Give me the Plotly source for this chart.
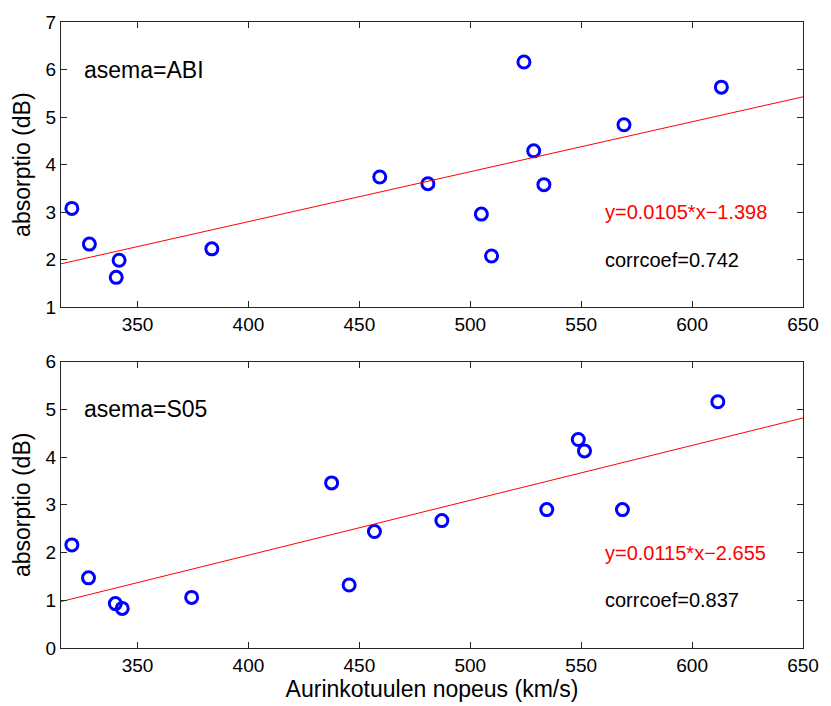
import plotly.graph_objects as go

# --- data ---
abi_speed = [320.4, 328.3, 341.7, 340.4, 383.5, 459.2, 480.9, 524.2, 528.6, 533.2, 505.0, 509.6, 569.3, 613.2]
abi_absorption = [3.08, 2.33, 1.99, 1.63, 2.23, 3.74, 3.60, 6.16, 4.29, 3.58, 2.96, 2.08, 4.84, 5.63]

s05_speed = [320.4, 327.9, 340.0, 343.1, 374.4, 437.5, 445.4, 456.8, 487.2, 534.5, 548.7, 551.5, 568.6, 611.6]
s05_absorption = [2.16, 1.47, 0.93, 0.83, 1.06, 3.46, 1.32, 2.44, 2.67, 2.90, 4.37, 4.13, 2.90, 5.16]

stations = ["ABI", "S05"]
slopes = [0.0105, 0.0115]
intercepts = [-1.398, -2.655]
corrcoefs = [0.742, 0.837]
equation_labels = ["y=0.0105*x\u22121.398", "y=0.0115*x\u22122.655"]

x_range = [315.5, 650]
x_ticks = [350, 400, 450, 500, 550, 600, 650]
y_ranges = [[1, 7], [0, 6]]
y_ticks = [[1, 2, 3, 4, 5, 6, 7], [0, 1, 2, 3, 4, 5, 6]]
text_pos = [
    {"label": (325, 6), "eq": (560, 3), "cc": (560, 2)},
    {"label": (325, 5), "eq": (560, 2), "cc": (560, 1)},
]

FONT = "Liberation Sans, Arial, Helvetica, sans-serif"

fig = go.Figure()

speeds = [abi_speed, s05_speed]
absorptions = [abi_absorption, s05_absorption]
axis_ids = [("x", "y"), ("x2", "y2")]

annotations = []
for i in range(2):
    xa, ya = axis_ids[i]
    fig.add_trace(go.Scatter(
        x=speeds[i], y=absorptions[i], mode="markers",
        marker=dict(symbol="circle-open", size=12, color="#0000FF",
                    line=dict(width=3, color="#0000FF")),
        xaxis=xa, yaxis=ya, showlegend=False, hoverinfo="x+y"))
    line_x = x_range
    line_y = [slopes[i] * v + intercepts[i] for v in line_x]
    fig.add_trace(go.Scatter(
        x=line_x, y=line_y, mode="lines",
        line=dict(color="#FF0000", width=1),
        xaxis=xa, yaxis=ya, showlegend=False, hoverinfo="skip"))
    tp = text_pos[i]
    annotations.append(dict(
        x=tp["label"][0], y=tp["label"][1], xref=xa, yref=ya,
        text="asema=" + stations[i], showarrow=False,
        xanchor="left", yanchor="middle",
        font=dict(family=FONT, size=23, color="black")))
    annotations.append(dict(
        x=tp["eq"][0], y=tp["eq"][1], xref=xa, yref=ya,
        text=equation_labels[i], showarrow=False,
        xanchor="left", yanchor="middle",
        font=dict(family=FONT, size=20, color="#FF0000")))
    annotations.append(dict(
        x=tp["cc"][0], y=tp["cc"][1], xref=xa, yref=ya,
        text="corrcoef=%.3f" % corrcoefs[i], showarrow=False,
        xanchor="left", yanchor="middle",
        font=dict(family=FONT, size=20, color="black")))

common_axis = dict(
    showline=True, linecolor="#262626", linewidth=1, mirror="ticks",
    ticks="inside", ticklen=6, tickwidth=1, tickcolor="#262626",
    showgrid=False, zeroline=False,
    tickfont=dict(family=FONT, size=19, color="black"),
)

fig.update_layout(
    width=831, height=706,
    margin=dict(l=61, r=19, t=18, b=54),
    paper_bgcolor="white", plot_bgcolor="white",
    xaxis=dict(domain=[0, 1], anchor="y", range=x_range, tickvals=x_ticks, **common_axis),
    yaxis=dict(domain=[0.5442, 1], anchor="x", range=y_ranges[0], tickvals=y_ticks[0],
               title=dict(text="absorptio (dB)", font=dict(family=FONT, size=23, color="black"), standoff=8),
               **common_axis),
    xaxis2=dict(domain=[0, 1], anchor="y2", range=x_range, tickvals=x_ticks,
                title=dict(text="Aurinkotuulen nopeus (km/s)", font=dict(family=FONT, size=23, color="black"), standoff=2),
                **common_axis),
    yaxis2=dict(domain=[0, 0.4574], anchor="x2", range=y_ranges[1], tickvals=y_ticks[1],
                title=dict(text="absorptio (dB)", font=dict(family=FONT, size=23, color="black"), standoff=8),
                **common_axis),
    annotations=annotations,
)

fig.write_html("out.html")
